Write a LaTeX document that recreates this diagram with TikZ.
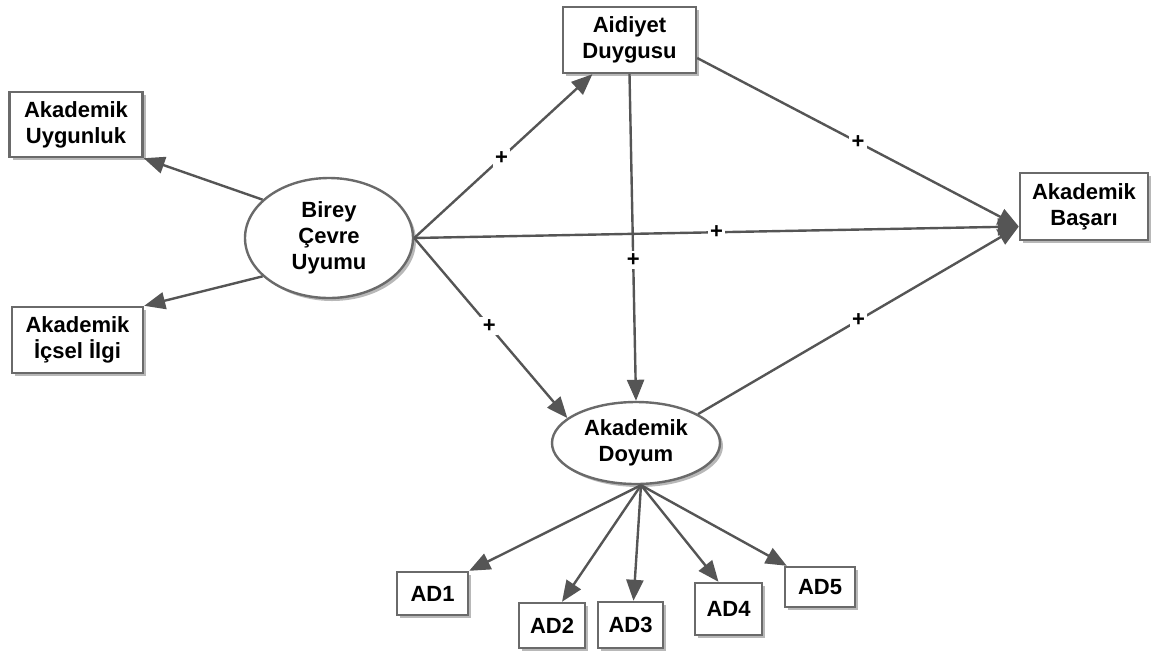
\documentclass[tikz,border=0pt]{standalone}
\usepackage{fontspec}
\setmainfont{Liberation Sans}
\usetikzlibrary{arrows.meta,shapes.geometric,shadows}
\definecolor{edgegray}{HTML}{555555}
\definecolor{boxgray}{HTML}{6A6A6A}
\tikzset{
  base/.style={draw=boxgray, line width=2.4pt, fill=white, align=center,
    font=\fontsize{22}{26}\selectfont\bfseries, inner sep=0pt,
    drop shadow={shadow xshift=3pt, shadow yshift=-3pt, fill=black!35, opacity=0.8}},
  box/.style={base, rectangle},
  oval/.style={base, ellipse},
  conn/.style={draw=edgegray, line width=2.4pt, -{Triangle[length=21pt,width=17pt]}},
  plus/.style={fill=white, inner sep=2.5pt, font=\fontsize{22}{22}\selectfont\bfseries, text=black}
}
\begin{document}
\begin{tikzpicture}[x=1pt,y=-1pt]
\useasboundingbox (0,0) rectangle (1153,657);
\node[box, minimum width=133pt, minimum height=65pt] (uyg) at (76,124.5) {Akademik\\Uygunluk};
\node[box, minimum width=131pt, minimum height=66pt] (icsel) at (77.5,340) {Akademik\\İçsel İlgi};
\node[box, minimum width=133pt, minimum height=66pt] (aid) at (629.5,40) {Aidiyet\\Duygusu};
\node[box, minimum width=128pt, minimum height=67pt] (bas) at (1084,206.5) {Akademik\\Başarı};
\node[oval, minimum width=168pt, minimum height=120pt] (bir) at (329,238) {Birey\\Çevre\\Uyumu};
\node[oval, minimum width=168pt, minimum height=82pt] (doy) at (636,443) {Akademik\\Doyum};
\node[box, minimum width=71pt, minimum height=43pt] (ad1) at (432.5,593.5) {AD1};
\node[box, minimum width=66pt, minimum height=45pt] (ad2) at (552,625.5) {AD2};
\node[box, minimum width=65pt, minimum height=46pt] (ad3) at (630.5,625) {AD3};
\node[box, minimum width=67pt, minimum height=52pt] (ad4) at (728.5,609) {AD4};
\node[box, minimum width=70pt, minimum height=40pt] (ad5) at (820,587) {AD5};

\draw[conn] (bir.150) -- (uyg.south east);
\draw[conn] (bir.210) -- (icsel.north east);
\draw[conn] (bir.east) -- (aid) node[plus, pos=0.49] {+};
\draw[conn] (bir.east) -- ([yshift=-20pt]bas.west) node[plus, pos=0.5] {+};
\draw[conn] (bir.east) -- (doy.160) node[plus, pos=0.49] {+};
\draw[conn] (aid.south) -- (doy.north) node[plus, pos=0.57] {+};
\draw[conn] ([yshift=-18pt]aid.east) -- ([yshift=-20pt]bas.west) node[plus, pos=0.5] {+};
\draw[conn] (doy.25) -- ([yshift=-20pt]bas.west) node[plus, pos=0.5] {+};
\draw[conn] ([xshift=5pt]doy.south) -- (ad1.north east);
\draw[conn] ([xshift=5pt]doy.south) -- ([xshift=10pt]ad2.north);
\draw[conn] ([xshift=5pt]doy.south) -- ([xshift=3pt]ad3.north);
\draw[conn] ([xshift=5pt]doy.south) -- ([xshift=-10pt]ad4.north);
\draw[conn] ([xshift=5pt]doy.south) -- ([xshift=3pt]ad5.north west);
\end{tikzpicture}
\end{document}
